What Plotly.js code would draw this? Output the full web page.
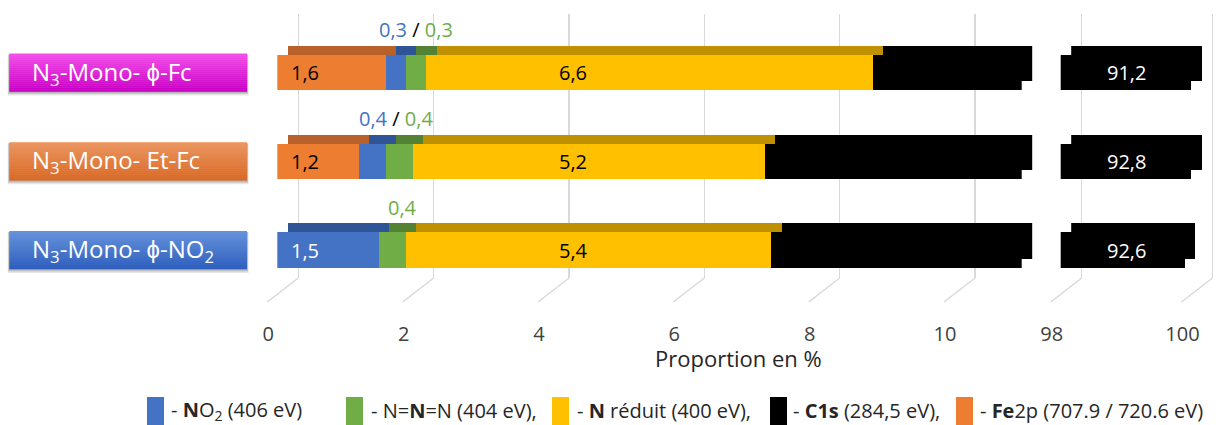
<!DOCTYPE html>
<html>
<head>
<meta charset="utf-8">
<script src="https://cdn.plot.ly/plotly-3.0.1.min.js"></script>
<style>html,body{margin:0;padding:0;background:#fff;}</style>
</head>
<body>
<div id="chart" style="width:1223px;height:425px;"></div>
<script>
// ---------------- data ----------------
const categories = ['N3-Mono- ϕ-Fc', 'N3-Mono- Et-Fc', 'N3-Mono- ϕ-NO2'];
const categoryLabels = ['N<sub>3</sub>-Mono- ϕ-Fc', 'N<sub>3</sub>-Mono- Et-Fc', 'N<sub>3</sub>-Mono- ϕ-NO<sub>2</sub>'];
const fe2p    = [1.6, 1.2, 0];
const no2     = [0.3, 0.4, 1.5];
const nnn     = [0.3, 0.4, 0.4];
const nReduit = [6.6, 5.2, 5.4];
const c1s     = [91.2, 92.8, 92.6];
const ticksLow  = [0, 2, 4, 6, 8, 10];
const ticksHigh = [98, 100];
const rangeLow  = [0, 11];
const rangeHigh = [98, 100];
const axisTitle = 'Proportion en %';

// ---------------- styling ----------------
const FONT = '"Open Sans", sans-serif';
const series = [
  {name:'- <b>Fe</b>2p (707.9 / 720.6 eV)', values:fe2p,    front:'#ED7D31', top:'#B8612A', text:'#000000'},
  {name:'- <b>N</b>O<sub>2</sub> (406 eV)',  values:no2,     front:'#4472C4', top:'#2F5597', text:'#FFFFFF'},
  {name:'- N=<b>N</b>=N (404 eV),',          values:nnn,     front:'#70AD47', top:'#548235', text:'#000000'},
  {name:'- <b>N</b> réduit (400 eV),',       values:nReduit, front:'#FFC000', top:'#BF9000', text:'#000000'},
  {name:'- <b>C1s</b> (284,5 eV),',          values:c1s,     front:'#000000', top:'#000000', text:'#FFFFFF'}
];
const legendOrder = [1, 2, 3, 4, 0];
const boxColors = [['#F24EE8', '#C800C4'], ['#F39256', '#E2661A'], ['#6592DB', '#3060BF']];

const W = 1223, H = 425;
const fx = p => p / W, fy = p => 1 - p / H;
const P1 = [277.3, 1021.7], P2 = [1060.7, 1191.5];   // front face pixel extents of the two panels
const YF = [28.125, 294.375];
const BACK = {dx: 10.5, dy: -9};
const GRID_DX = 21, GRID_Y = [14, 278];
const pxu1 = (P1[1] - P1[0]) / (rangeLow[1] - rangeLow[0]);
const pxu2 = (P2[1] - P2[0]) / (rangeHigh[1] - rangeHigh[0]);
const dom = (a, dx) => [fx(a[0] + dx), fx(a[1] + dx)];
const ydom = (a, dy) => [fy(a[1] + dy), fy(a[0] + dy)];
const fmt = v => v.toFixed(1).replace('.', ',');

// ---------------- traces ----------------
const traces = [
  {type:'scatter', x:[], y:[], xaxis:'x',  yaxis:'y', showlegend:false, hoverinfo:'skip'},
  {type:'scatter', x:[], y:[], xaxis:'x2', yaxis:'y', showlegend:false, hoverinfo:'skip'}
];
const layers = [{xs:['x3','x4'], y:'y2', col:'top'}, {xs:['x5','x6'], y:'y3', col:'front'}];
layers.forEach(L => L.xs.forEach(xa => series.forEach(s => traces.push({
  type:'bar', orientation:'h', x:s.values, y:categories, xaxis:xa, yaxis:L.y,
  name:s.name, marker:{color:s[L.col], line:{width:0}}, showlegend:false, hoverinfo:'x+y'
}))));

// ---------------- axes ----------------
const baseAx = {showgrid:false, zeroline:false, showline:false, showticklabels:false, ticks:'', fixedrange:true};
const catAx = {type:'category', categoryorder:'array', categoryarray:categories, range:[2.5, -0.5], visible:false, fixedrange:true};
const gLow0 = -0.75, gHigh0 = 97.45, gHigh1 = 100.05;
const tickFont = {family:FONT, size:20, color:'#404040'};
const layout = {
  width:W, height:H, margin:{l:0, r:0, t:0, b:0},
  paper_bgcolor:'#FFFFFF', plot_bgcolor:'rgba(0,0,0,0)',
  barmode:'stack', bargap:0.6, showlegend:false,
  font:{family:FONT, color:'#404040'},
  xaxis:{...baseAx, anchor:'y', range:[gLow0, rangeLow[1]],
    domain:[fx(P1[0] + GRID_DX + gLow0 * pxu1), fx(P1[1] + GRID_DX)],
    showgrid:true, gridcolor:'#D9D9D9', gridwidth:1.5, tickmode:'array', tickvals:ticksLow},
  xaxis2:{...baseAx, anchor:'y', range:[gHigh0, gHigh1],
    domain:[fx(P2[0] + GRID_DX - (rangeHigh[0] - gHigh0) * pxu2), fx(P2[1] + GRID_DX + (gHigh1 - rangeHigh[1]) * pxu2)],
    showgrid:true, gridcolor:'#D9D9D9', gridwidth:1.5, tickmode:'array', tickvals:ticksHigh},
  yaxis:{...baseAx, anchor:'x', domain:ydom(GRID_Y, 0), range:[0, 1], visible:false},
  xaxis3:{...baseAx, anchor:'y2', domain:dom(P1, BACK.dx), range:rangeLow},
  xaxis4:{...baseAx, anchor:'y2', domain:dom(P2, BACK.dx), range:rangeHigh},
  yaxis2:{...catAx, anchor:'x3', domain:ydom(YF, BACK.dy)},
  xaxis5:{...baseAx, anchor:'y3', domain:dom(P1, 0), range:rangeLow, showticklabels:true,
    tickmode:'array', tickvals:ticksLow, tickfont:tickFont, ticklabelshift:-9, ticklabelstandoff:26},
  xaxis6:{...baseAx, anchor:'y3', domain:dom(P2, 0), range:rangeHigh, showticklabels:true,
    tickmode:'array', tickvals:ticksHigh, tickfont:tickFont, ticklabelshift:-9, ticklabelstandoff:26},
  yaxis3:{...catAx, anchor:'x5', domain:ydom(YF, 0)},
  shapes:[], annotations:[]
};

// floor lines under the back-wall gridlines
[['x', ticksLow], ['x2', ticksHigh]].forEach(([xr, ticks]) => ticks.forEach(t => layout.shapes.push({
  type:'line', xref:xr, xsizemode:'pixel', xanchor:t, x0:0, x1:-31,
  yref:'paper', y0:fy(GRID_Y[1]), y1:fy(GRID_Y[1] + 24), line:{color:'#D9D9D9', width:1.5}, layer:'below'
})));

// category label boxes (gradient + soft shadow)
const hexToRgb = h => [1,3,5].map(i => parseInt(h.substr(i, 2), 16));
const mix = (a, b, t) => { const A = hexToRgb(a), B = hexToRgb(b); return 'rgb(' + A.map((v, k) => Math.round(v + (B[k] - v) * t)).join(',') + ')'; };
const BOX_X = [9.3, 247], BOX_H = 19;
categories.forEach((c, i) => {
  [[4, 0.10], [2.5, 0.12], [1.2, 0.14]].forEach(([d, o]) => layout.shapes.push({
    type:'rect', xref:'paper', x0:fx(BOX_X[0] - d * 0.4), x1:fx(BOX_X[1] + d * 0.4),
    yref:'y3', ysizemode:'pixel', yanchor:i, y0:-BOX_H - d, y1:BOX_H - 1,
    fillcolor:'rgba(0,0,0,' + o + ')', line:{width:0}
  }));
  const n = 19;
  for (let k = 0; k < n; k++) {
    const hgt = 2 * BOX_H / n;
    layout.shapes.push({
      type:'rect', xref:'paper', x0:fx(BOX_X[0]), x1:fx(BOX_X[1]),
      yref:'y3', ysizemode:'pixel', yanchor:i, y0:BOX_H - (k + 1) * hgt - 0.3, y1:BOX_H - k * hgt,
      fillcolor:mix(boxColors[i][0], boxColors[i][1], k / (n - 1)), line:{width:0}
    });
  }
  layout.annotations.push({
    xref:'paper', x:fx(30), xanchor:'left', yref:'y3', y:i, yanchor:'middle', showarrow:false,
    text:categoryLabels[i], font:{family:FONT, size:24, color:'#FFFFFF'}
  });
});

// value labels
const YELLOW_LABEL_X = 4.37;
categories.forEach((c, i) => {
  let start = 0;
  const small = [];
  series.forEach((s, si) => {
    const v = s.values[i];
    if (v > 0) {
      if (si === 4) {
        layout.annotations.push({xref:'x6', yref:'y3', x:(rangeHigh[0] + rangeHigh[1]) / 2, y:i, showarrow:false,
          xanchor:'center', yanchor:'middle', text:fmt(v), font:{family:FONT, size:20, color:s.text}});
      } else if (v >= 1) {
        const isMid = si === 3;
        layout.annotations.push({xref:'x5', yref:'y3', x:isMid ? YELLOW_LABEL_X : start, y:i, showarrow:false,
          xanchor:isMid ? 'center' : 'left', yanchor:'middle', xshift:isMid ? 0 : 12,
          text:fmt(v), font:{family:FONT, size:20, color:s.text}});
      } else {
        small.push({s, v, start});
      }
    }
    start += v;
  });
  if (small.length === 2) {
    layout.annotations.push({xref:'x3', yref:'y2', x:small[1].start, y:i, yshift:34, showarrow:false,
      xanchor:'center', yanchor:'middle',
      text:'<span style="color:' + small[0].s.front + '">' + fmt(small[0].v) + '</span> / <span style="color:' + small[1].s.front + '">' + fmt(small[1].v) + '</span>',
      font:{family:FONT, size:20, color:'#000000'}});
  } else if (small.length === 1) {
    layout.annotations.push({xref:'x3', yref:'y2', x:small[0].start + small[0].v / 2, y:i, yshift:34, showarrow:false,
      xanchor:'center', yanchor:'middle', text:fmt(small[0].v), font:{family:FONT, size:20, color:small[0].s.front}});
  }
});

// axis title
layout.annotations.push({xref:'paper', yref:'paper', x:fx(738), y:fy(358), xanchor:'center', yanchor:'middle',
  showarrow:false, text:axisTitle, font:{family:FONT, size:22, color:'#262626'}});

// legend (manual, to reproduce tall swatches)
const LEG_SW = [147, 346, 552, 770, 956], LEG_TX = [169, 369, 575, 791, 978];
legendOrder.forEach((si, k) => {
  layout.shapes.push({type:'rect', xref:'paper', yref:'paper', x0:fx(LEG_SW[k]), x1:fx(LEG_SW[k] + 17),
    y0:fy(397), y1:fy(432), fillcolor:series[si].front, line:{width:0}});
  layout.annotations.push({xref:'paper', yref:'paper', x:fx(LEG_TX[k]), y:fy(410), xanchor:'left', yanchor:'middle',
    showarrow:false, text:series[si].name, font:{family:FONT, size:20, color:'#262626'}});
});

Plotly.newPlot('chart', traces, layout, {displayModeBar:false, staticPlot:true});
</script>
</body>
</html>
